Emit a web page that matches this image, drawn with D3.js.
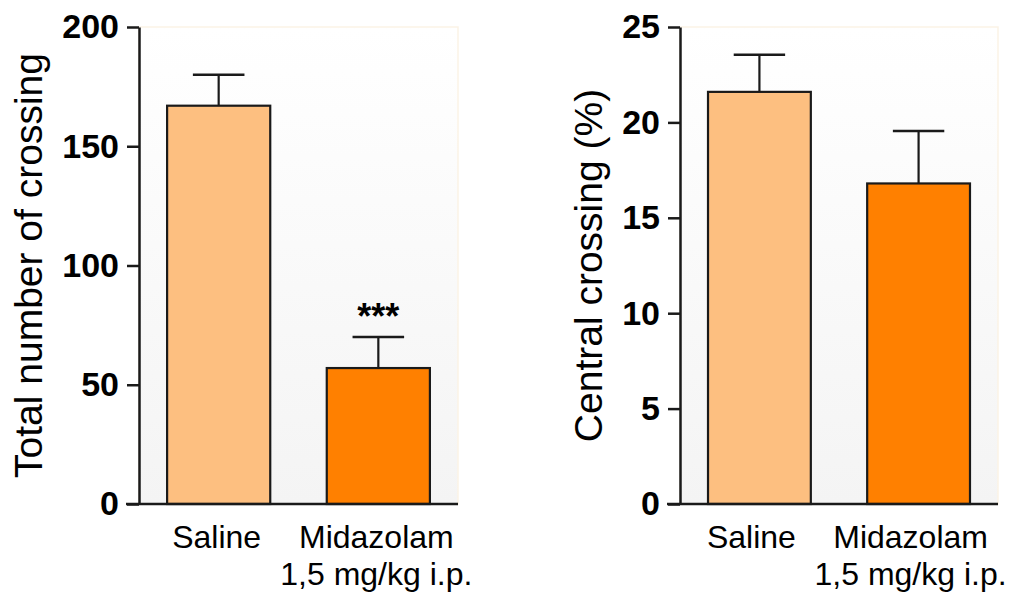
<!DOCTYPE html>
<html>
<head>
<meta charset="utf-8">
<script src="https://cdn.jsdelivr.net/npm/d3@7"></script>
<style>
  html, body { margin: 0; padding: 0; background: #ffffff; }
  svg { display: block; }
  text { font-family: "Liberation Sans", Arial, Helvetica, sans-serif; fill: #000; }
</style>
</head>
<body>
<svg id="chart" width="1012" height="594"></svg>
<script>
// ---- data ----
const categories = [["Saline"], ["Midazolam", "1,5 mg/kg i.p."]];
const barColors = ["#FDBF80", "#FF8000"];

const totalMeans = [167, 57];
const totalSEM = [13, 13];
const totalTicks = [0, 50, 100, 150, 200];
const totalTitle = "Total number of crossing";
const totalSignif = ["", "***"];

const centralMeans = [21.6, 16.8];
const centralSEM = [1.95, 2.75];
const centralTicks = [0, 5, 10, 15, 20, 25];
const centralTitle = "Central crossing (%)";
const centralSignif = ["", ""];

// ---- drawing ----
const svg = d3.select("#chart");
const defs = svg.append("defs");
const grad = defs.append("linearGradient").attr("id", "bg").attr("x1", 0).attr("y1", 0).attr("x2", 0).attr("y2", 1);
grad.append("stop").attr("offset", "0%").attr("stop-color", "#ffffff");
grad.append("stop").attr("offset", "100%").attr("stop-color", "#f4f4f4");

function panel(cfg) {
  const { left, right, top, bottom, means, sem, ticks, title, signif, titleX, labelShift } = cfg;
  const g = svg.append("g");
  const x = d3.scaleBand().domain(d3.range(means.length)).range([left, right])
    .paddingInner(0.354).paddingOuter(0.176);
  const y = d3.scaleLinear().domain([ticks[0], ticks[ticks.length - 1]]).range([bottom, top]);

  // plot background
  g.append("rect").attr("x", left).attr("y", top).attr("width", right - left).attr("height", bottom - top)
    .attr("fill", "url(#bg)").attr("stroke", "#fbf3e6").attr("stroke-width", 1.5);

  // bars
  g.selectAll("rect.bar").data(means).enter().append("rect").attr("class", "bar")
    .attr("x", (d, i) => x(i)).attr("width", x.bandwidth())
    .attr("y", d => y(d)).attr("height", d => y(0) - y(d))
    .attr("fill", (d, i) => barColors[i]).attr("stroke", "#1a1a1a").attr("stroke-width", 2.2);

  // error bars (upward)
  const capHalf = x.bandwidth() * 0.25;
  means.forEach((m, i) => {
    const cx = x(i) + x.bandwidth() / 2;
    g.append("line").attr("x1", cx).attr("x2", cx).attr("y1", y(m)).attr("y2", y(m + sem[i]))
      .attr("stroke", "#1a1a1a").attr("stroke-width", 2.2);
    g.append("line").attr("x1", cx - capHalf).attr("x2", cx + capHalf).attr("y1", y(m + sem[i])).attr("y2", y(m + sem[i]))
      .attr("stroke", "#1a1a1a").attr("stroke-width", 2.5);
    if (signif[i]) {
      g.append("text").attr("x", cx).attr("y", y(m + sem[i]) - 8).attr("text-anchor", "middle")
        .attr("font-size", 36).attr("font-weight", "bold").text(signif[i]);
    }
  });

  // y axis
  const ax = g.append("g").attr("transform", `translate(${left},0)`)
    .call(d3.axisLeft(y).tickValues(ticks).tickSize(12).tickSizeOuter(0).tickPadding(8));
  ax.select(".domain").attr("stroke", "#1a1a1a").attr("stroke-width", 2.5);
  ax.selectAll(".tick line").attr("stroke", "#1a1a1a").attr("stroke-width", 2.5);
  ax.selectAll(".tick text").attr("font-size", 34).attr("font-weight", "bold")
    .attr("font-family", "'Liberation Sans', Arial, sans-serif").attr("fill", "#000");

  // x baseline
  g.append("line").attr("x1", left - 13).attr("x2", right).attr("y1", y(0)).attr("y2", y(0))
    .attr("stroke", "#1a1a1a").attr("stroke-width", 2.5);

  // category labels
  categories.forEach((lines, i) => {
    const cx = x(i) + x.bandwidth() / 2 + labelShift;
    const t = g.append("text").attr("text-anchor", "middle").attr("font-size", 32);
    lines.forEach((ln, k) => {
      t.append("tspan").attr("x", cx).attr("y", bottom + 44 + k * 37).text(ln);
    });
  });

  // y title
  g.append("text").attr("transform", `translate(${titleX},${(top + bottom) / 2}) rotate(-90)`)
    .attr("text-anchor", "middle").attr("font-size", 39).text(title);
}

panel({ left: 139, right: 458, top: 27, bottom: 504, means: totalMeans, sem: totalSEM,
  ticks: totalTicks, title: totalTitle, signif: totalSignif, titleX: 42, labelShift: -2 });
panel({ left: 680, right: 998, top: 27, bottom: 504, means: centralMeans, sem: centralSEM,
  ticks: centralTicks, title: centralTitle, signif: centralSignif, titleX: 602, labelShift: -8 });
</script>
</body>
</html>
